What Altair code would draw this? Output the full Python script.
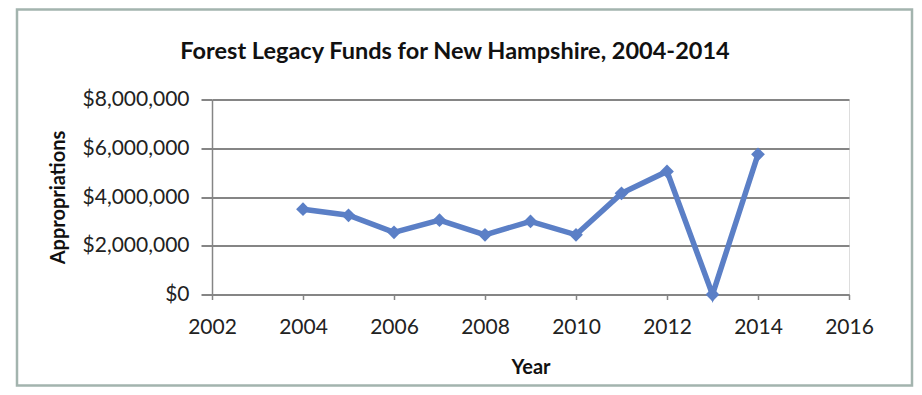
import altair as alt
import pandas as pd

years = [2004, 2005, 2006, 2007, 2008, 2009, 2010, 2011, 2012, 2013, 2014]
appropriations = [3500000, 3250000, 2550000, 3050000, 2450000, 3000000,
                  2450000, 4150000, 5050000, 0, 5750000]
x_ticks = [2002, 2004, 2006, 2008, 2010, 2012, 2014, 2016]
y_ticks = [0, 2000000, 4000000, 6000000, 8000000]
chart_title = "Forest Legacy Funds for New Hampshire, 2004-2014"

df = pd.DataFrame({"Year": years, "Appropriations": appropriations})

FONT = "Lato"
GRID = "#858585"
LINE = "#5b7fc6"

x_enc = alt.X(
    "Year:Q",
    scale=alt.Scale(domain=[2002, 2016], nice=False, zero=False),
    axis=alt.Axis(values=x_ticks, format="d", grid=False, title="Year",
                  domainColor=GRID, domainWidth=2, tickColor=GRID, tickWidth=1.5,
                  tickSize=5, labelPadding=17, labelFlush=False, labelFontSize=21,
                  labelFont=FONT, labelColor="#222222", titleFont=FONT,
                  titleFontSize=20, titleFontWeight="bold", titleColor="#111111",
                  titlePadding=20),
)
y_enc = alt.Y(
    "Appropriations:Q",
    scale=alt.Scale(domain=[0, 8000000], nice=False),
    axis=alt.Axis(values=y_ticks, format="$,.0f", title="Appropriations",
                  gridColor=GRID, gridWidth=2, domainColor=GRID, domainWidth=1.5,
                  tickColor=GRID, tickWidth=2, tickSize=11, labelPadding=12,
                  labelFlush=False, labelFontSize=21, labelFont=FONT,
                  labelColor="#222222", titleFont=FONT, titleFontSize=20,
                  titleFontWeight="bold", titleColor="#111111", titlePadding=14),
)

line = alt.Chart(df).mark_line(color=LINE, strokeWidth=5.5).encode(x=x_enc, y=y_enc)
points = alt.Chart(df).mark_point(shape="diamond", filled=True, color=LINE,
                                  size=190, opacity=1).encode(x="Year:Q", y="Appropriations:Q")

frame = alt.Chart(alt.Data(values=[{"a": 1}])).mark_rect(
    fill=None, stroke="#a3b4ae", strokeWidth=2.5
).encode(x=alt.value(-195), x2=alt.value(700), y=alt.value(-90), y2=alt.value(286))

title_text = alt.Chart(alt.Data(values=[{"t": chart_title}])).mark_text(
    font=FONT, fontSize=23.5, fontWeight="bold", color="#111111",
    align="center", baseline="alphabetic"
).encode(text="t:N", x=alt.value(243), y=alt.value(-41))

chart = alt.layer(frame, line, points, title_text).properties(
    width=637,
    height=195,
    autosize="none",
    padding={"left": 204, "top": 91.5, "right": 65, "bottom": 92.5},
).configure_view(stroke=None).configure(background="white")

chart.save("out.html", embed_options={"renderer": "svg", "actions": False})
